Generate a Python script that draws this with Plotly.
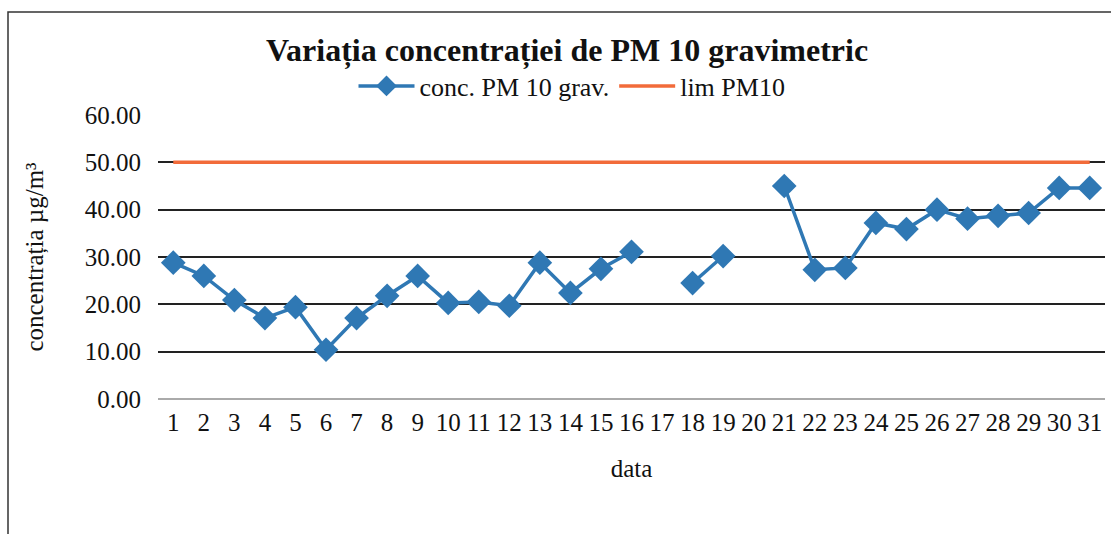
import plotly.graph_objects as go

days = [str(i) for i in range(1, 32)]
conc = [28.8, 26.0, 20.9, 17.1, 19.4, 10.4, 17.1, 21.8, 26.0, 20.3,
        20.5, 19.7, 28.8, 22.4, 27.5, 31.1, None, 24.5, 30.2, None,
        45.0, 27.3, 27.7, 37.2, 35.9, 40.0, 38.1, 38.7, 39.3, 44.6, 44.6]
limit = [50.0] * 31
y_ticks = [0, 10, 20, 30, 40, 50, 60]
y_tick_labels = ["%.2f" % v for v in y_ticks]

W, H = 1111, 534
L, R, T, B = 158, 6, 115, 135
pw, ph = W - L - R, H - T - B

def px_x(p):
    return (p - L) / pw

def px_y(p):
    return (H - B - p) / ph

FONT = "Liberation Serif"

fig = go.Figure()
fig.add_trace(go.Scatter(
    x=days, y=conc, mode="lines+markers", name="conc. PM 10 grav.",
    line=dict(color="#2f78b4", width=3.5),
    marker=dict(symbol="diamond", size=19, color="#2f78b4"),
    connectgaps=False,
))
fig.add_trace(go.Scatter(
    x=days, y=limit, mode="lines", name="lim PM10",
    line=dict(color="#f26b3a", width=3.5),
))

fig.update_layout(
    width=W, height=H,
    margin=dict(l=L, r=R, t=T, b=B, autoexpand=False),
    paper_bgcolor="white", plot_bgcolor="white",
    font=dict(family=FONT, color="#1a1a1a"),
    title=dict(text="<b>Variația concentrației de PM 10 gravimetric</b>",
               x=px_x(567), xref="paper", xanchor="center",
               y=1 - 50 / H, yanchor="middle",
               font=dict(size=32, family=FONT, color="#111")),
    legend=dict(orientation="h", x=px_x(572), xanchor="center",
                y=px_y(86), yanchor="middle",
                font=dict(size=26, family=FONT, color="#111"),
                bgcolor="rgba(0,0,0,0)", itemwidth=56, traceorder="normal"),
    showlegend=True,
)
fig.update_xaxes(
    type="category", tickvals=days, ticktext=days, range=[-0.5, 30.5],
    tickfont=dict(size=25, family=FONT, color="#111"),
    showgrid=False, showline=False, zeroline=False, ticks="",
    ticklabelstandoff=6,
    title=dict(text="data", font=dict(size=25, family=FONT, color="#111"), standoff=24),
)
fig.update_yaxes(
    range=[0, 60], tickvals=y_ticks, ticktext=y_tick_labels,
    tickfont=dict(size=25, family=FONT, color="#111"),
    showgrid=True, gridcolor="#222", gridwidth=1.8,
    zeroline=True, zerolinecolor="#aaa", zerolinewidth=1.5,
    showline=False, ticks="", ticklabelstandoff=16,
    title=dict(text="concentrația µg/m³", font=dict(size=25, family=FONT, color="#111"), standoff=34),
)

fig.add_shape(type="rect", xref="paper", yref="paper",
              x0=px_x(8), x1=px_x(1125), y0=px_y(560), y1=px_y(12),
              line=dict(color="#333", width=1.5), fillcolor="rgba(0,0,0,0)")

fig.write_html("out.html", config={"displayModeBar": False},
               post_script="document.body.style.margin='0';")
